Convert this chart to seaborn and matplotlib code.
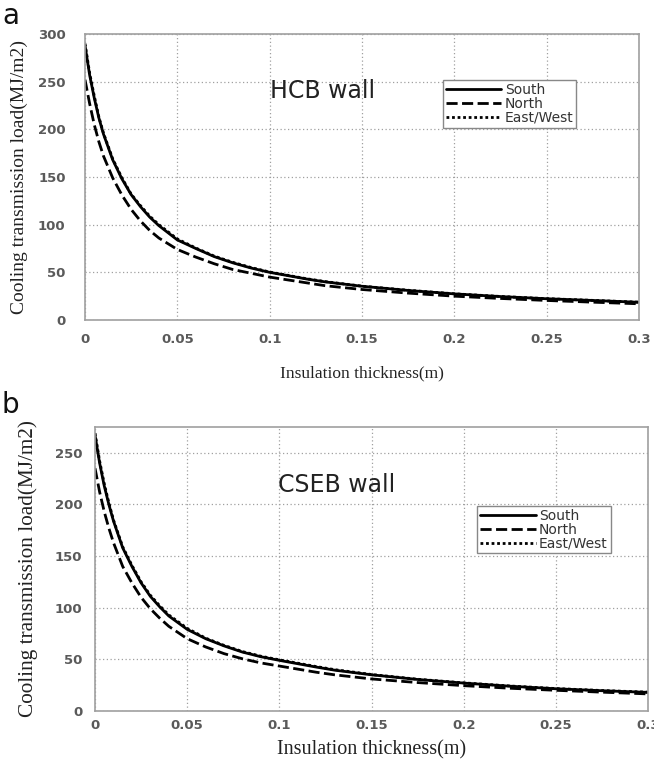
import numpy as np
import pandas as pd
import matplotlib
matplotlib.use("Agg")
import matplotlib.pyplot as plt
import seaborn as sns

# ---- data ----
thickness = [0, 0.0025, 0.005, 0.0075, 0.01, 0.015, 0.02, 0.025, 0.03, 0.035, 0.04, 0.05,
             0.06, 0.07, 0.08, 0.09, 0.1, 0.12, 0.13, 0.15, 0.175, 0.2, 0.225, 0.25, 0.275, 0.3]

hcb_south = [288, 257, 233, 212, 195, 168, 148, 131.5, 119, 108, 99, 84,
             75, 66.5, 60, 54.5, 50, 43, 40, 35.4, 31, 27.4, 24.6, 22.3, 20.5, 18.6]
hcb_north = [252, 227, 205, 187, 172, 149, 131, 116, 104, 94, 86, 74,
             66, 59, 53, 49, 45, 39, 36, 32, 28.2, 25, 22.6, 20.5, 18.7, 17]
hcb_eastwest = [290, 259, 235, 213, 196, 169, 149, 132, 120, 109, 100, 85,
                75.5, 67, 60.5, 55, 50.3, 43.3, 40.3, 35.5, 31.2, 27.5, 24.7, 22.4, 20.6, 18.7]

cseb_south = [267, 240, 218, 200, 184, 158, 140, 124, 111, 101, 92, 79,
              70, 63, 57, 52.5, 49, 42.5, 39.5, 35, 30.5, 27, 24, 21.5, 19.6, 18]
cseb_north = [235, 212, 193, 177, 163, 140, 124, 110, 99, 90, 82, 70,
              62, 55.5, 50.5, 46.5, 43.5, 37.5, 35, 31, 27.5, 24.5, 22, 20, 18.2, 16.5]
cseb_eastwest = [269, 242, 220, 201.5, 185, 159, 141, 125, 112, 102, 93, 80,
                 70.5, 63.5, 57.5, 53, 49.5, 43, 40, 35.3, 30.7, 27.2, 24.2, 21.7, 19.8, 18.2]

orientations = ["South", "North", "East/West"]
x_ticks = [0, 0.05, 0.1, 0.15, 0.2, 0.25, 0.3]
x_tick_labels = ["0", "0.05", "0.1", "0.15", "0.2", "0.25", "0.3"]
y_ticks_a = [0, 50, 100, 150, 200, 250, 300]
y_ticks_b = [0, 50, 100, 150, 200, 250]


def long_df(s, n, e):
    rows = []
    for name, vals in zip(orientations, [s, n, e]):
        for xv, yv in zip(thickness, vals):
            rows.append({"Insulation thickness": xv, "Load": yv, "Orientation": name})
    return pd.DataFrame(rows)


df_a = long_df(hcb_south, hcb_north, hcb_eastwest)
df_b = long_df(cseb_south, cseb_north, cseb_eastwest)

sns.set_theme(style="white")
plt.rcParams["font.family"] = ["DejaVu Sans"]

fig = plt.figure(figsize=(6.54, 7.63), dpi=100)
ax_a = fig.add_axes([0.130, 0.5806, 0.847, 0.3748])
ax_b = fig.add_axes([0.1453, 0.0682, 0.8457, 0.3722])

dash_map = {"South": "", "North": (4, 1.6), "East/West": (1, 1)}


def draw(ax, df, ymax, yticks, title, title_xy, legend_anchor,
         xpad, ypad, xlabelpad, xlabel_size, ylabel_size, ylabel_x):
    sns.lineplot(data=df, x="Insulation thickness", y="Load", style="Orientation",
                 style_order=orientations, dashes=dash_map, color="black",
                 linewidth=2.0, ax=ax, legend=True)
    ax.set_xlim(0, 0.3)
    ax.set_ylim(0, ymax)
    ax.set_xticks(x_ticks)
    ax.set_xticklabels(x_tick_labels)
    ax.set_yticks(yticks)
    ax.grid(True, linestyle=(0, (1, 2)), color="#a0a0a0", linewidth=0.9)
    for sp in ax.spines.values():
        sp.set_color("#a0a0a0")
        sp.set_linewidth(1.2)
    ax.tick_params(axis="both", labelsize=9.5, colors="#555555", length=0)
    ax.tick_params(axis="x", pad=xpad)
    ax.tick_params(axis="y", pad=ypad)
    for lbl in ax.get_xticklabels() + ax.get_yticklabels():
        lbl.set_fontweight("bold")
        lbl.set_color("#5a5a5a")
    ax.set_xlabel("Insulation thickness(m)", family=["Liberation Serif"], fontsize=xlabel_size,
                  color="#222222", labelpad=xlabelpad)
    ax.set_ylabel("Cooling transmission load(MJ/m2)", family=["Liberation Serif"],
                  fontsize=ylabel_size, color="#222222")
    ax.yaxis.set_label_coords(ylabel_x, 0.5)
    ax.text(title_xy[0], title_xy[1], title, transform=ax.transAxes, fontsize=17,
            color="#222222", ha="left", va="center")
    handles, labels = ax.get_legend_handles_labels()
    leg = ax.legend(handles, labels, loc="upper left", bbox_to_anchor=legend_anchor,
                    borderaxespad=0, fontsize=10, frameon=True, fancybox=False,
                    handlelength=4.0, handletextpad=0.25, borderpad=0.2,
                    labelspacing=0.0, edgecolor="#888888", framealpha=1)
    leg.get_frame().set_linewidth(1.0)
    for t in leg.get_texts():
        t.set_color("#333333")


draw(ax_a, df_a, 300, y_ticks_a, "HCB wall", (0.334, 0.802), (0.646, 0.839),
     xpad=9, ypad=14, xlabelpad=14, xlabel_size=12.5, ylabel_size=14, ylabel_x=-0.103)
draw(ax_b, df_b, 275, y_ticks_b, "CSEB wall", (0.331, 0.796), (0.691, 0.722),
     xpad=6, ypad=9, xlabelpad=6, xlabel_size=14.5, ylabel_size=15.3, ylabel_x=-0.103)

fig.text(0.003, 0.997, "a", fontsize=20, ha="left", va="top", color="#111111")
fig.text(0.003, 0.487, "b", fontsize=20, ha="left", va="top", color="#111111")

fig.savefig("out.png", dpi=100)
